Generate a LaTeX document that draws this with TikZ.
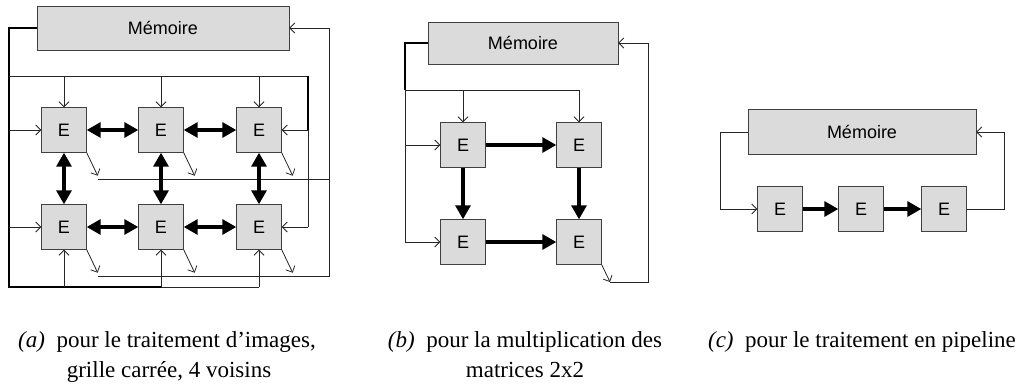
\documentclass[tikz,border=0pt]{standalone}
\usepackage{fontspec}
\setmainfont{Liberation Serif}
\setsansfont{Liberation Sans}
\usepackage{tikz}
\usetikzlibrary{arrows.meta}

\begin{document}
\begin{tikzpicture}[x=1pt,y=-1pt,
    box node/.style={draw=black!75,fill=black!14,inner sep=0pt,font=\sffamily\fontsize{18}{21}\selectfont},
    mem node/.style={box node,minimum height=44pt},
    pe node/.style={box node,minimum width=45pt,minimum height=45pt},
    line/.style={line width=0.8pt,black!85},
    bus/.style={line width=1.8pt},
    wire/.style={line,-{Straight Barb[length=5pt,width=10pt]}},
    link/.style={line width=3.2pt,-{Triangle[length=14pt,width=15pt]}},
    dlink/.style={line width=3.2pt,{Triangle[length=14pt,width=15pt]}-{Triangle[length=14pt,width=15pt]}},
    caption text/.style={anchor=base,inner sep=0pt,font=\fontsize{23}{28}\selectfont}]
  \useasboundingbox (0,0) rectangle (1025,383);

  % (a) grille carree
  \node[mem node,minimum width=252pt] (ma) at (163,28) {Mémoire};
  \node[pe node] (a1) at (64,130) {E};
  \node[pe node] (a2) at (161,130) {E};
  \node[pe node] (a3) at (259,130) {E};
  \node[pe node] (a4) at (64,227) {E};
  \node[pe node] (a5) at (161,227) {E};
  \node[pe node] (a6) at (259,227) {E};
  \coordinate (ab) at (9,287);
  \coordinate (at) at (9,76);
  \coordinate (ae) at (308,76);
  \coordinate (ao1) at (98,179);
  \coordinate (ao2) at (98,276);
  \coordinate (ar) at (329,276);
  \draw[bus] (ma.west) -| (ab) -- (a2 |- ab);
  \draw[line] (a2 |- ab) -- (a6 |- ab);
  \draw[line] (at) -- (ae);
  \draw[bus] (ae) -- (ae |- a3);
  \draw[line] (ae |- a3) -- (ae |- a6);
  \foreach \n in {1,2,3} {
    \draw[wire] (a\n |- at) -- (a\n.north);
    \draw[wire] (a\n.south east) -- ++(11,23);
  }
  \foreach \n in {4,5,6} {
    \draw[wire] (a\n |- ab) -- (a\n.south);
    \draw[wire] (a\n.south east) -- ++(11,23);
  }
  \draw[wire] (at |- a1) -- (a1.west);
  \draw[wire] (at |- a4) -- (a4.west);
  \draw[wire] (ae |- a3) -- (a3.east);
  \draw[wire] (ae |- a6) -- (a6.east);
  \draw[line] (ao1) -- (ao1 -| ar);
  \draw[wire] (ao2) -- (ar) |- (ma.east);
  \path
    (a1) edge[dlink] (a2)
    (a2) edge[dlink] (a3)
    (a4) edge[dlink] (a5)
    (a5) edge[dlink] (a6)
    (a1) edge[dlink] (a4)
    (a2) edge[dlink] (a5)
    (a3) edge[dlink] (a6);

  % (b) multiplication 2x2
  \node[mem node,minimum width=190pt,minimum height=42pt] (mb) at (523,43) {Mémoire};
  \node[pe node] (b1) at (463,145) {E};
  \node[pe node] (b2) at (579,145) {E};
  \node[pe node] (b3) at (463,242) {E};
  \node[pe node] (b4) at (579,242) {E};
  \coordinate (bt) at (405,90);
  \coordinate (bw) at (405,242);
  \coordinate (bo) at (610,282);
  \coordinate (br) at (648,282);
  \draw[bus] (mb.west) -| (bt);
  \draw[line] (bt) -- (bw);
  \draw[line] (bt) -- (bt -| b2);
  \draw[wire] (b1 |- bt) -- (b1.north);
  \draw[wire] (b2 |- bt) -- (b2.north);
  \draw[wire] (bw |- b1) -- (b1.west);
  \draw[wire] (bw) -- (b3.west);
  \draw[wire] (b4.south east) -- (bo);
  \draw[wire] (bo) -- (br) |- (mb.east);
  \path
    (b1) edge[link] (b2)
    (b3) edge[link] (b4)
    (b1) edge[link] (b3)
    (b2) edge[link] (b4);

  % (c) pipeline
  \node[mem node,minimum width=228pt,minimum height=45pt] (mc) at (862,132) {Mémoire};
  \node[pe node] (c1) at (780,209) {E};
  \node[pe node] (c2) at (861,209) {E};
  \node[pe node] (c3) at (944,209) {E};
  \coordinate (cl) at (720,209);
  \coordinate (cr) at (1004,209);
  \draw[wire] (mc.west) -| (cl) -- (c1.west);
  \draw[wire] (c3.east) -- (cr) |- (mc.east);
  \path
    (c1) edge[link] (c2)
    (c2) edge[link] (c3);

  % legendes
  \node[caption text] (capa1) at (167,347) {\textit{(a)}\enspace pour le traitement d’images,};
  \node[caption text] (capa2) at (169,377) {grille carrée, 4 voisins};
  \node[caption text] (capb1) at (525,347) {\textit{(b)}\enspace pour la multiplication des};
  \node[caption text] (capb2) at (525,377) {matrices 2x2};
  \node[caption text] (capc) at (862,347) {\textit{(c)}\enspace pour le traitement en pipeline};
\end{tikzpicture}
\end{document}
